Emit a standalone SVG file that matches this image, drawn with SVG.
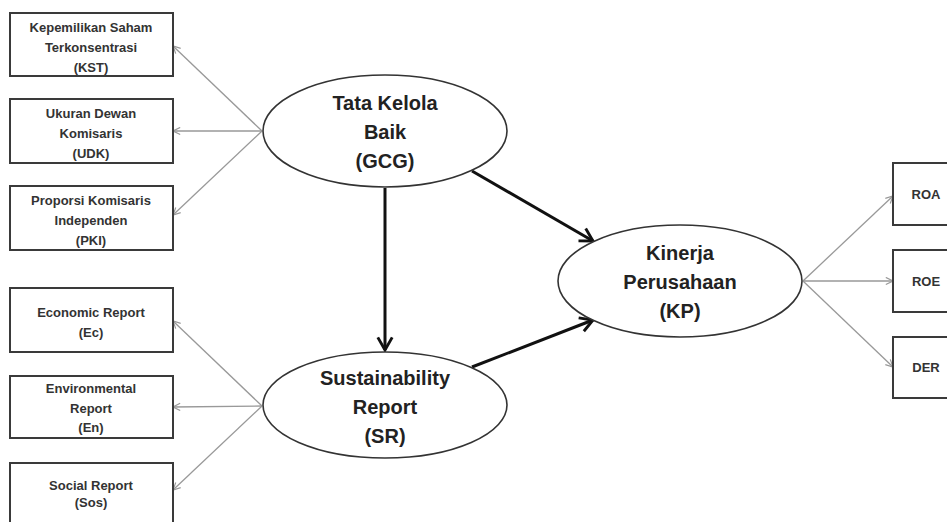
<svg xmlns="http://www.w3.org/2000/svg" width="947" height="522" viewBox="0 0 947 522">
<style>
.box{fill:#fff;stroke:#3a3a3a;stroke-width:2}
.ell{fill:#fff;stroke:#333;stroke-width:1.6}
.bt{font-family:"Liberation Sans",Arial,sans-serif;font-weight:bold;font-size:13px;fill:#333;text-anchor:middle}
.et{font-family:"Liberation Sans",Arial,sans-serif;font-weight:bold;font-size:20px;fill:#222;text-anchor:middle}
.thin{stroke:#999;stroke-width:1.3;fill:none;marker-end:url(#ah)}
.thick{stroke:#111;stroke-width:3;fill:none;marker-end:url(#ahb)}
</style>
<defs>
<marker id="ah" viewBox="0 0 10 10" refX="9" refY="5" markerWidth="9" markerHeight="9" markerUnits="userSpaceOnUse" orient="auto">
<path d="M1,1 L9,5 L1,9" fill="none" stroke="#999" stroke-width="1.3"/>
</marker>
<marker id="ahb" viewBox="0 0 10 10" refX="9" refY="5" markerWidth="18" markerHeight="18" markerUnits="userSpaceOnUse" orient="auto">
<path d="M2,1 L9,5 L2,9" fill="none" stroke="#111" stroke-width="1.6"/>
</marker>
</defs>
<rect width="947" height="522" fill="#fff"/>
<g id="connectors">
<line class="thin" x1="262" y1="131" x2="173" y2="46"/>
<line class="thin" x1="262" y1="131" x2="173" y2="131"/>
<line class="thin" x1="262" y1="131" x2="173" y2="215"/>
<line class="thin" x1="262" y1="406" x2="173" y2="321"/>
<line class="thin" x1="262" y1="406" x2="173" y2="407"/>
<line class="thin" x1="262" y1="406" x2="173" y2="490"/>
<line class="thin" x1="803" y1="281" x2="893" y2="196"/>
<line class="thin" x1="803" y1="281" x2="893" y2="281"/>
<line class="thin" x1="803" y1="281" x2="893" y2="367"/>
<line class="thick" x1="385" y1="188" x2="385" y2="350"/>
<line class="thick" x1="472" y1="171" x2="593" y2="241"/>
<line class="thick" x1="472" y1="367" x2="593" y2="320"/>
</g>
<g id="KST"><rect class="box" x="10" y="13" width="163" height="63"/>
<text class="bt" x="91" y="32">Kepemilikan Saham</text><text class="bt" x="91" y="52">Terkonsentrasi</text><text class="bt" x="91" y="72">(KST)</text></g>
<g id="UDK"><rect class="box" x="10" y="99" width="163" height="64"/>
<text class="bt" x="91" y="118">Ukuran Dewan</text><text class="bt" x="91" y="138">Komisaris</text><text class="bt" x="91" y="158">(UDK)</text></g>
<g id="PKI"><rect class="box" x="10" y="186" width="163" height="64"/>
<text class="bt" x="91" y="205">Proporsi Komisaris</text><text class="bt" x="91" y="225">Independen</text><text class="bt" x="91" y="245">(PKI)</text></g>
<g id="Ec"><rect class="box" x="10" y="288" width="163" height="64"/>
<text class="bt" x="91" y="317">Economic Report</text><text class="bt" x="91" y="337">(Ec)</text></g>
<g id="En"><rect class="box" x="10" y="376" width="163" height="62"/>
<text class="bt" x="91" y="393">Environmental</text><text class="bt" x="91" y="413">Report</text><text class="bt" x="91" y="432">(En)</text></g>
<g id="Sos"><rect class="box" x="10" y="463" width="163" height="70"/>
<text class="bt" x="91" y="490">Social Report</text><text class="bt" x="91" y="507">(Sos)</text></g>
<g id="ROA"><rect class="box" x="893" y="163" width="70" height="62"/><text class="bt" x="926" y="199">ROA</text></g>
<g id="ROE"><rect class="box" x="893" y="250" width="70" height="62"/><text class="bt" x="926" y="286">ROE</text></g>
<g id="DER"><rect class="box" x="893" y="337" width="70" height="61"/><text class="bt" x="926" y="372">DER</text></g>
<g id="GCG"><ellipse class="ell" cx="385" cy="131" rx="122" ry="56"/>
<text class="et" x="385" y="110">Tata Kelola</text><text class="et" x="385" y="139">Baik</text><text class="et" x="385" y="168">(GCG)</text></g>
<g id="SR"><ellipse class="ell" cx="385" cy="405" rx="122" ry="53"/>
<text class="et" x="385" y="385">Sustainability</text><text class="et" x="385" y="414">Report</text><text class="et" x="385" y="443">(SR)</text></g>
<g id="KP"><ellipse class="ell" cx="680" cy="281" rx="122" ry="56"/>
<text class="et" x="680" y="260">Kinerja</text><text class="et" x="680" y="289">Perusahaan</text><text class="et" x="680" y="318">(KP)</text></g>
</svg>
